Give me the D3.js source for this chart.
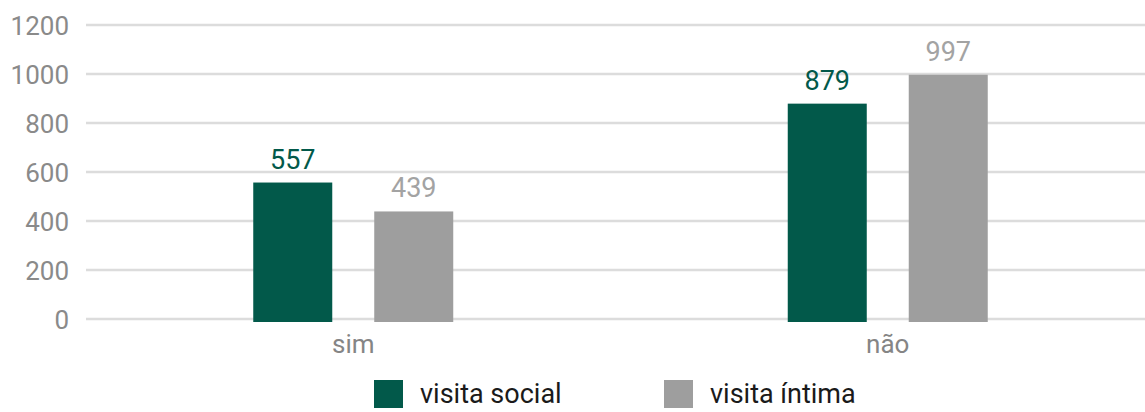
<!DOCTYPE html>
<html>
<head>
  <meta charset="UTF-8" />
  <title>visita social x visita íntima</title>
  <script src="https://d3js.org/d3.v7.min.js"></script>
  <style>
    body { margin: 0; background: #fff; }
    text { font-family: Roboto, "Noto Sans", sans-serif; }
  </style>
</head>
<body>
  <div id="chart"></div>
  <script>
    // data
    const categories = ["sim", "não"];
    const seriesNames = ["visita social", "visita íntima"];
    const socialValues = [557, 879];
    const intimaValues = [439, 997];
    const yTicks = [0, 200, 400, 600, 800, 1000, 1200];

    const colors = ["#02594a", "#9e9e9e"];
    const labelColors = ["#02594a", "#a3a3a3"];

    const width = 1145, height = 412;

    const svg = d3.select("#chart")
      .append("svg")
      .attr("width", width)
      .attr("height", height);

    // scales
    const y = d3.scaleLinear()
      .domain([0, 1200])
      .range([319, 25]);

    const x = d3.scaleBand()
      .domain(categories)
      .range([86, 1155]);

    const xInner = d3.scaleBand()
      .domain(seriesNames)
      .range([0, 200])
      .paddingInner(0.347);

    // grid lines
    svg.append("g")
      .selectAll("line")
      .data(yTicks)
      .enter()
      .append("line")
      .attr("x1", 86)
      .attr("x2", width)
      .attr("y1", d => y(d))
      .attr("y2", d => y(d))
      .attr("stroke", "#dcdcdc")
      .attr("stroke-width", 2.5);

    // y axis
    const yAxis = d3.axisLeft(y)
      .tickValues(yTicks)
      .tickFormat(d3.format("d"))
      .tickSize(0)
      .tickPadding(0);

    const yG = svg.append("g")
      .attr("transform", "translate(69,0)")
      .call(yAxis);
    yG.select(".domain").remove();
    yG.selectAll("text")
      .attr("font-size", 26)
      .attr("fill", "#8a8a8a")
      .attr("dy", "0.38em")
      .style("font-family", "Roboto, sans-serif");

    // x axis labels
    const xAxis = d3.axisBottom(x).tickSize(0).tickPadding(0);
    const xG = svg.append("g")
      .attr("transform", "translate(0,353)")
      .call(xAxis);
    xG.select(".domain").remove();
    xG.selectAll("text")
      .attr("font-size", 26)
      .attr("fill", "#858585")
      .attr("dy", 0)
      .attr("y", 0)
      .style("font-family", "Roboto, sans-serif");

    // bars
    const rows = categories.map((c, i) => ({
      category: c,
      values: [socialValues[i], intimaValues[i]]
    }));

    const groups = svg.selectAll(".group")
      .data(rows)
      .enter()
      .append("g")
      .attr("class", "group")
      .attr("transform", d => "translate(" + (x(d.category) + x.bandwidth() / 2 - 100) + ",0)");

    groups.selectAll("rect")
      .data(d => d.values.map((v, j) => ({ series: seriesNames[j], value: v, idx: j })))
      .enter()
      .append("rect")
      .attr("x", d => xInner(d.series))
      .attr("y", d => y(d.value))
      .attr("width", xInner.bandwidth())
      .attr("height", d => y(0) + 3 - y(d.value))
      .attr("fill", d => colors[d.idx]);

    // value labels
    groups.selectAll("text.value")
      .data(d => d.values.map((v, j) => ({ series: seriesNames[j], value: v, idx: j })))
      .enter()
      .append("text")
      .attr("class", "value")
      .attr("x", d => xInner(d.series) + xInner.bandwidth() / 2)
      .attr("y", d => y(d.value) - 14)
      .attr("text-anchor", "middle")
      .attr("font-size", 27)
      .attr("fill", d => labelColors[d.idx])
      .text(d => d.value);

    // legend
    const legend = svg.selectAll(".legend")
      .data(seriesNames)
      .enter()
      .append("g")
      .attr("class", "legend")
      .attr("transform", (d, i) => "translate(" + (374 + i * 290) + ",380)");

    legend.append("rect")
      .attr("width", 29)
      .attr("height", 28)
      .attr("fill", (d, i) => colors[i]);

    legend.append("text")
      .attr("x", 46)
      .attr("y", 23)
      .attr("font-size", 27)
      .attr("fill", "#1a1a1a")
      .text(d => d);
  </script>
</body>
</html>
